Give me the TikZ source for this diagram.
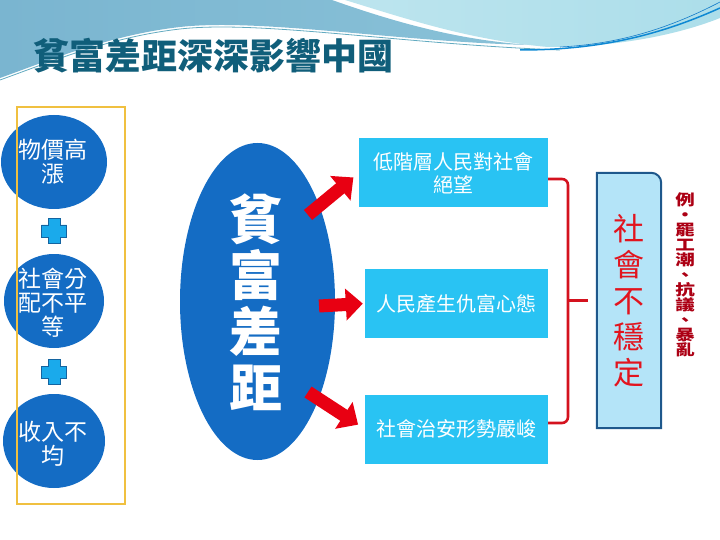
\documentclass[tikz,border=0pt]{standalone}
\usepackage{fontspec}
\setmainfont{Noto Sans CJK TC}
\usepackage{tikz}
\usetikzlibrary{arrows.meta}
\usetikzlibrary{backgrounds}

\definecolor{waveblue}{RGB}{122,181,208}
\definecolor{wavelight}{RGB}{172,222,234}
\definecolor{titleteal}{RGB}{16,94,122}
\definecolor{bubbleblue}{RGB}{20,108,196}
\definecolor{boxcyan}{RGB}{41,195,243}
\definecolor{arrowred}{RGB}{232,0,18}
\definecolor{bracketred}{RGB}{212,18,30}
\definecolor{unrestfill}{RGB}{180,228,248}
\definecolor{unrestedge}{RGB}{30,88,140}
\definecolor{unrestred}{RGB}{226,20,30}
\definecolor{examplered}{RGB}{172,0,20}
\definecolor{framegold}{RGB}{240,192,64}
\definecolor{pluscyan}{RGB}{26,170,235}
\definecolor{plusedge}{RGB}{20,100,160}

\tikzset{
  bubble/.style={fill=bubbleblue},
  bubbletext/.style={text=white, align=center, inner sep=0pt,
    font=\fontsize{23}{24}\selectfont},
  effectbox/.style={fill=boxcyan, inner sep=0pt, align=center, text=white,
    minimum height=69pt, font=\fontsize{20}{23}\selectfont},
  redarrow/.style={draw=arrowred, line width=13pt,
    -{Triangle[length=17pt,width=31pt]}},
  bracket/.style={draw=bracketred, line width=2.6pt},
  plusmark/.style={fill=pluscyan, draw=plusedge, line width=0.8pt},
}

\begin{document}
\begin{tikzpicture}[x=1pt,y=-1pt]
        \useasboundingbox (0,0) rectangle (720,540);

        % top waves
        \shade[left color=waveblue, right color=waveblue!70!wavelight]
          (0,0) -- (332,0) .. controls (400,24) and (460,40) .. (530,45)
          .. controls (400,42) and (260,18) .. (180,27)
          .. controls (110,35) and (50,60) .. (0,78) -- cycle;
        \shade[left color=wavelight!80!white, right color=wavelight]
          (345,0) -- (720,0) -- (720,18)
          .. controls (680,34) and (620,47) .. (548,47)
          .. controls (470,40) and (410,20) .. (345,0) -- cycle;
        \draw[waveblue!80!teal, line width=0.8pt]
          (0,80) .. controls (50,62) and (110,37) .. (180,29)
          .. controls (260,20) and (400,44) .. (560,50);
        \draw[cyan!70!blue, line width=1.5pt]
          (520,50) .. controls (600,50) and (660,35) .. (720,8);
        \draw[cyan!60!blue, line width=0.6pt]
          (560,47) .. controls (620,44) and (670,28) .. (720,2);

        \node[font=\fontsize{36}{40}\bfseries\selectfont, text=titleteal,
          anchor=west, inner sep=0pt] (title) at (33,56) {貧富差距深深影響中國};

        % causes
        \fill[bubble] (54,162) ellipse (53 and 47);
        \fill[bubble] (54,301) ellipse (50 and 47);
        \fill[bubble] (54,441) ellipse (51 and 47);
        \node[bubbletext] (price) at (53,162) {物價高\\漲};
        \node[bubbletext] (share) at (53,303) {社會分\\配不平\\等};
        \node[bubbletext] (income) at (53,444) {收入不\\均};
        \foreach \n/\y in {1/231, 2/372}
          \draw[plusmark] (54,\y) ++(-6,-12.5) -- ++(12,0) -- ++(0,6.5)
            -- ++(6.5,0) -- ++(0,12) -- ++(-6.5,0) -- ++(0,6.5)
            -- ++(-12,0) -- ++(0,-6.5) -- ++(-6.5,0) -- ++(0,-12)
            -- ++(6.5,0) -- cycle;
        \draw[framegold, line width=2pt] (17,107) rectangle (125,504);

        % the gap
        \fill[bubble] (257.5,301.5) ellipse (77.5 and 158.5);
        \node[text=white, align=center, inner sep=0pt,
          font=\fontsize{53}{56}\bfseries\selectfont] (gap) at (256,302) {貧\\富\\差\\距};

        % effects
        \node[effectbox, minimum width=189pt] (despair) at (453.5,173) {低階層人民對社會\\絕望};
        \node[effectbox, minimum width=183pt] (hatred) at (456.5,303.5) {人民產生仇富心態};
        \node[effectbox, minimum width=183pt] (security) at (456.5,429) {社會治安形勢嚴峻};

        \coordinate (out1) at (308,215);
        \coordinate (out2) at (319,306);
        \coordinate (out3) at (308,392);
        \draw[redarrow, shorten >=7pt] (out1) -- (despair.west);
        \draw[redarrow, shorten >=2pt] (out2) -- (hatred.west);
        \draw[redarrow, shorten >=8pt] (out3) -- (security.west);

        % result
        \node[text=unrestred, align=center, inner sep=0pt,
          minimum width=64pt, minimum height=255pt,
          font=\fontsize{31}{36}\selectfont] (unrest) at (629,300.5) {社\\會\\不\\穩\\定};
        \begin{scope}[on background layer]
          \draw[fill=unrestfill, draw=unrestedge, line width=2pt]
            (unrest.south west) -- (unrest.north west)
            -- ([xshift=-10pt]unrest.north east) arc[start angle=90, end angle=0, radius=10pt]
            -- (unrest.south east) -- cycle;
        \end{scope}

        \coordinate (brk) at (568,300.5);
        \draw[bracket, rounded corners=6pt] ([yshift=-6pt]despair.east) -| (brk)
          |- ([yshift=6pt]security.east);
        \draw[bracket, shorten >=9pt] (brk) -- (unrest.west);

        \node[text=examplered, align=center, inner sep=0pt, xscale=1.3, transform shape,
          font=\fontsize{15}{15}\bfseries\selectfont] (example) at (685,275)
          {例\\・\\罷\\工\\潮\\、\\抗\\議\\、\\暴\\亂};
    \end{tikzpicture}
\end{document}
